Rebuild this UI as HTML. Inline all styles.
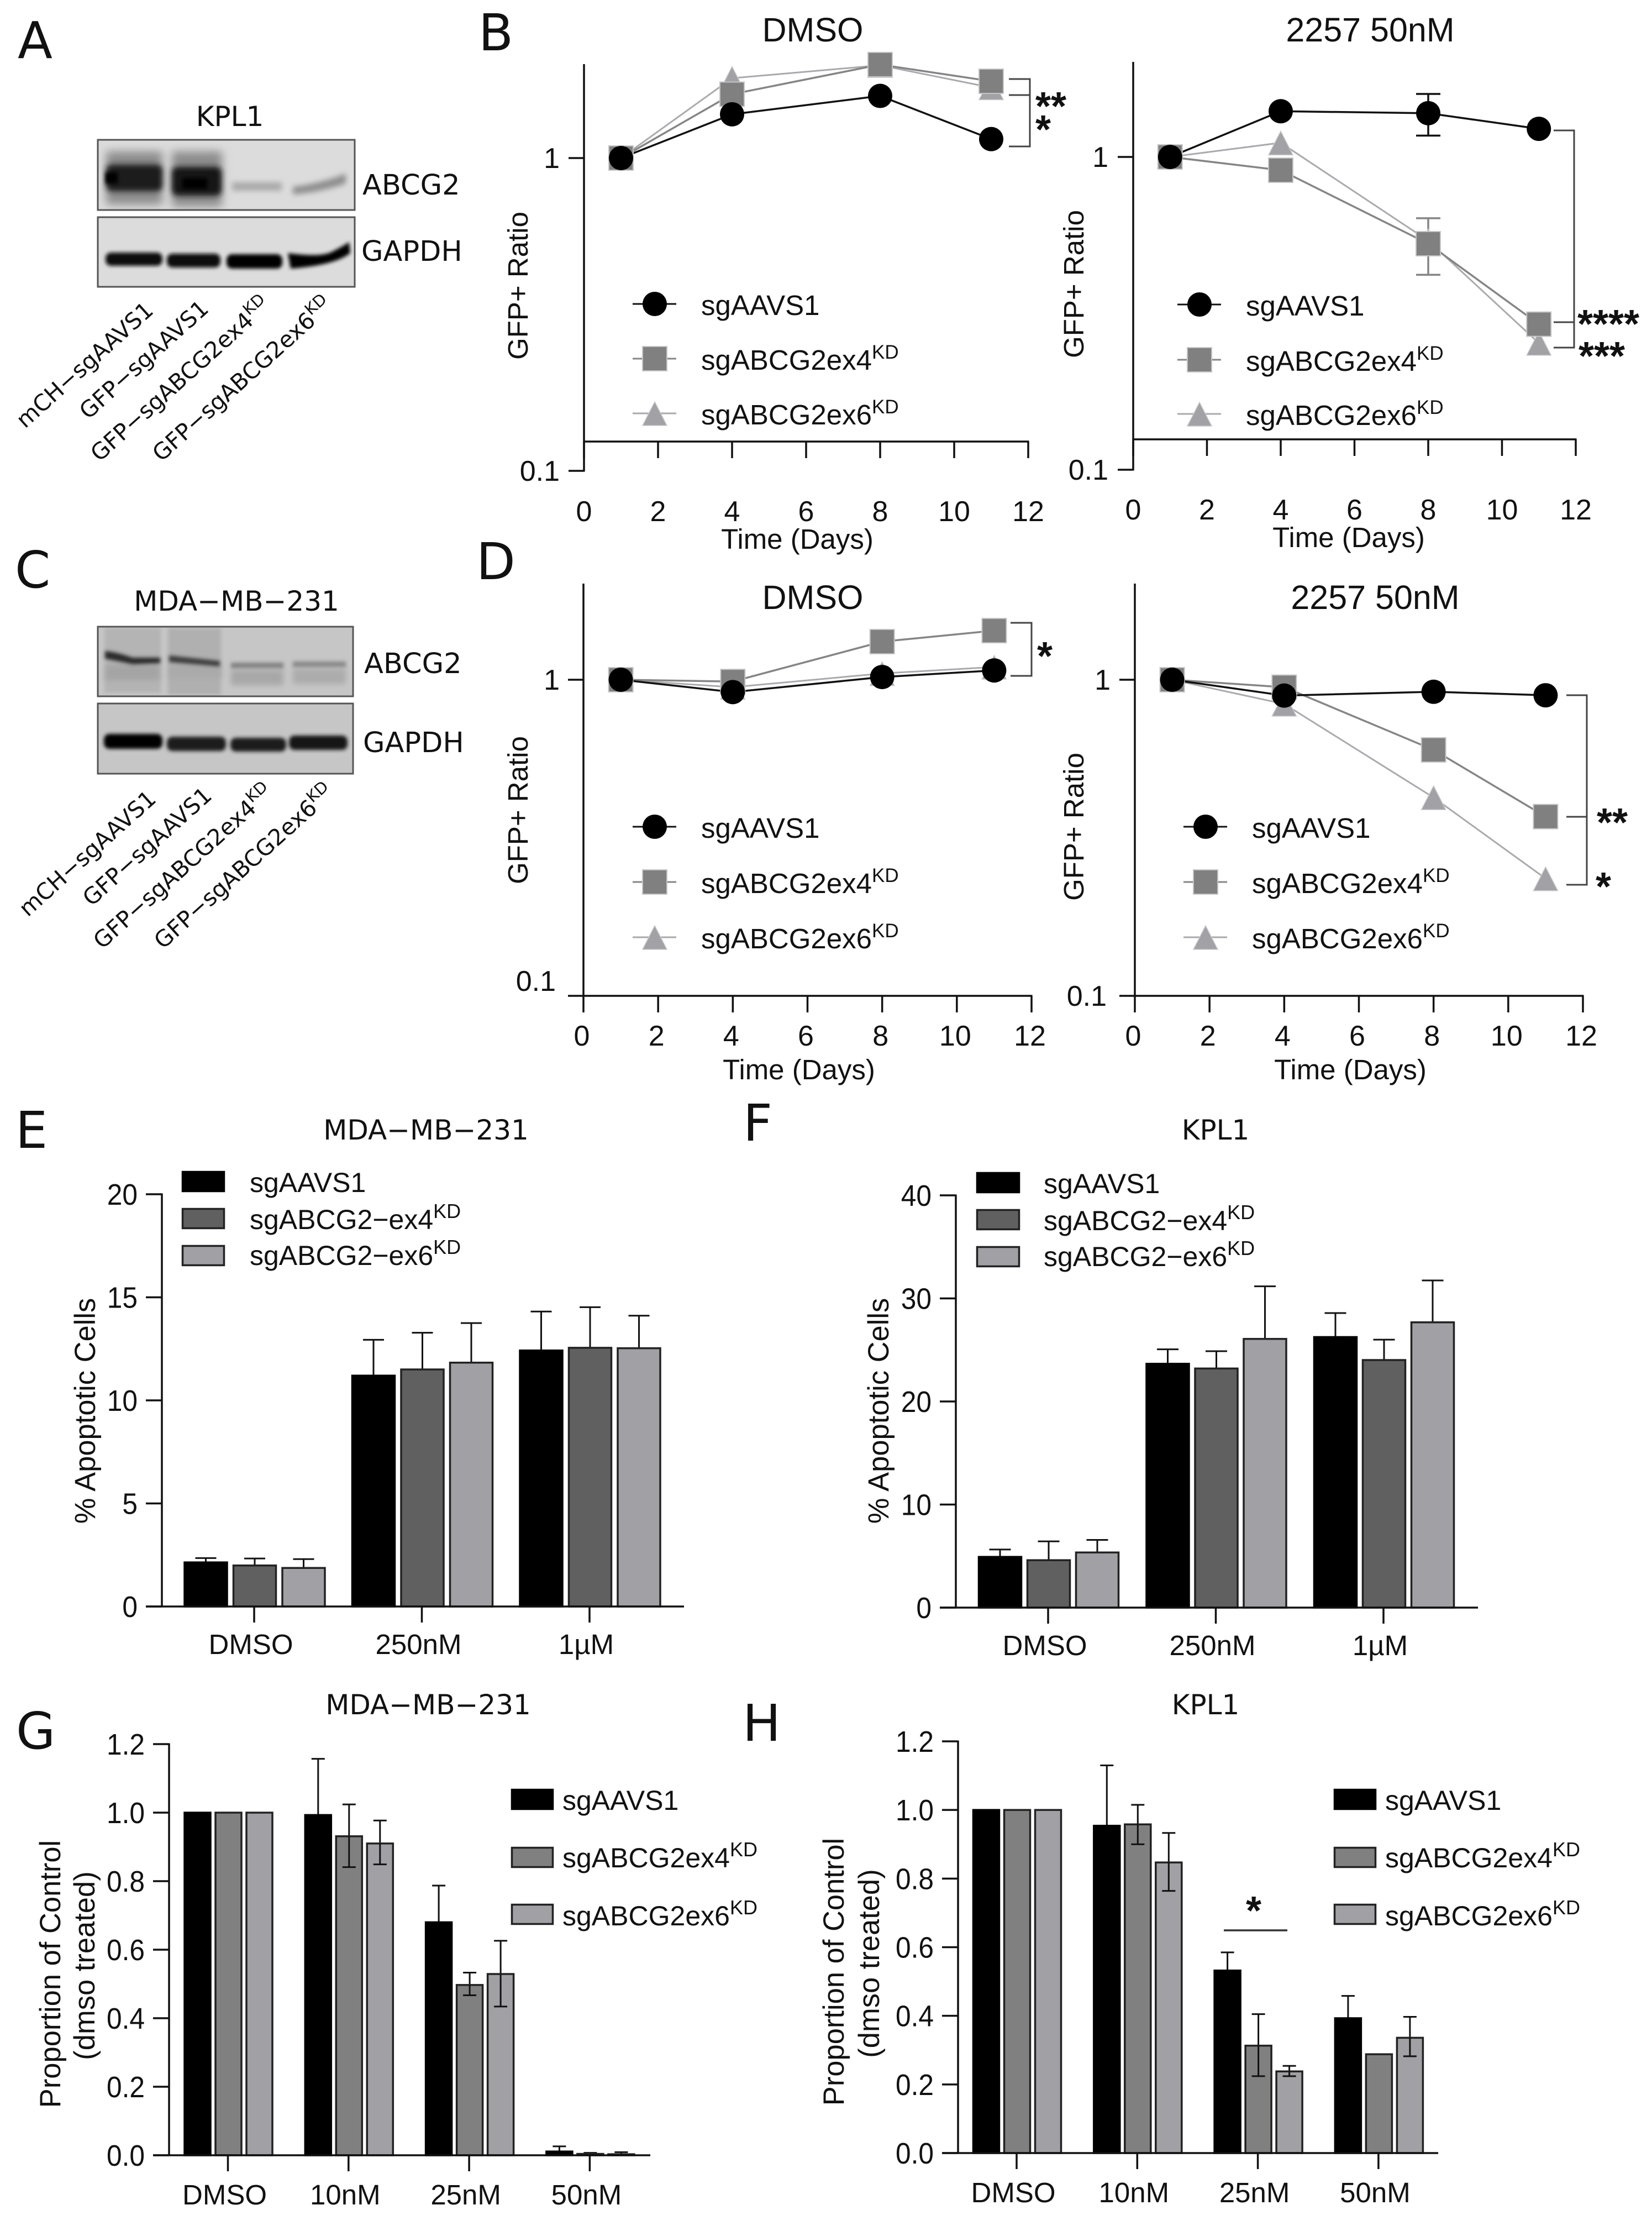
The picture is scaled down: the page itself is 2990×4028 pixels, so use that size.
<!DOCTYPE html>
<html lang="en">
<head>
<meta charset="utf-8">
<title>ABCG2 knockdown figure</title>
<style>
html,body{margin:0;padding:0;background:#fff}
svg{display:block}
text{font-family:"Liberation Sans",sans-serif;fill:#111}
.dj{font-family:"DejaVu Sans",sans-serif}
</style>
</head>
<body>
<svg id="figure" xmlns="http://www.w3.org/2000/svg" width="2990" height="4028" viewBox="0 0 2990 4028">
<defs>
<filter id="b3" x="-30%" y="-80%" width="160%" height="260%"><feGaussianBlur stdDeviation="3.5"/></filter>
<filter id="b5" x="-30%" y="-80%" width="160%" height="260%"><feGaussianBlur stdDeviation="5"/></filter>
<filter id="b6" x="-30%" y="-80%" width="160%" height="260%"><feGaussianBlur stdDeviation="8"/></filter>
<clipPath id="clipA1"><rect x="177" y="253" width="465" height="127"/></clipPath>
<clipPath id="clipA2"><rect x="177" y="393" width="465" height="126"/></clipPath>
<clipPath id="clipC1"><rect x="177" y="1134" width="462" height="126"/></clipPath>
<clipPath id="clipC2"><rect x="177" y="1273" width="462" height="127"/></clipPath>
</defs>
<rect width="2990" height="4028" fill="#fff"/>

<g>
<rect x="177" y="253" width="465" height="127" fill="#dcdcdc"/>
<g clip-path="url(#clipA1)">
<rect x="192" y="274" width="102" height="96" fill="#8c8c8c" filter="url(#b6)"/>
<rect x="311" y="274" width="91" height="100" fill="#8c8c8c" filter="url(#b6)"/>
<rect x="192" y="298" width="102" height="48" rx="10" fill="#1a1a1a" filter="url(#b5)"/>
<rect x="311" y="302" width="90" height="52" rx="10" fill="#141414" filter="url(#b5)"/>
<rect x="191" y="312" width="22" height="20" fill="#000" filter="url(#b3)"/>
<rect x="330" y="322" width="45" height="20" fill="#000" filter="url(#b3)"/>
<rect x="420" y="330" width="90" height="15" fill="#a8a8a8" filter="url(#b5)"/>
<path d="M530 338Q580 332 626 314L626 332Q580 348 530 352Z" fill="#8e8e8e" filter="url(#b5)"/>
</g>
<rect x="177" y="253" width="465" height="127" fill="none" stroke="#555" stroke-width="3"/>
</g>
<g>
<rect x="177" y="393" width="465" height="126" fill="#dcdcdc"/>
<g clip-path="url(#clipA2)">
<rect x="191" y="457" width="103" height="24" rx="10" fill="#0c0c0c" filter="url(#b3)"/>
<rect x="302" y="459" width="97" height="25" rx="10" fill="#0c0c0c" filter="url(#b3)"/>
<rect x="410" y="460" width="101" height="26" rx="10" fill="#050505" filter="url(#b3)"/>
<path d="M521 458Q580 466 600 456Q620 446 632 438L634 458Q606 480 526 486Z" fill="#000" filter="url(#b3)"/>
</g>
<rect x="177" y="393" width="465" height="126" fill="none" stroke="#555" stroke-width="3"/>
</g>
<g>
<rect x="177" y="1134" width="462" height="126" fill="#c6c6c6"/>
<g clip-path="url(#clipC1)">
<rect x="189" y="1136" width="102" height="118" fill="#b4b4b4" filter="url(#b3)"/>
<rect x="304" y="1136" width="96" height="122" fill="#b0b0b0" filter="url(#b3)"/>
<rect x="191" y="1203" width="98" height="28" fill="#a4a4a4" filter="url(#b5)"/>
<rect x="306" y="1204" width="94" height="24" fill="#aaaaaa" filter="url(#b5)"/>
<path d="M190 1178Q212 1180 240 1190L290 1190L290 1200L240 1202Q212 1196 190 1192Z" fill="#2a2a2a" filter="url(#b3)"/>
<path d="M306 1186L398 1196L398 1206L306 1198Z" fill="#3c3c3c" filter="url(#b3)"/>
<rect x="418" y="1199" width="95" height="11" fill="#828282" filter="url(#b3)"/>
<rect x="418" y="1212" width="95" height="28" fill="#a8a8a8" filter="url(#b5)"/>
<rect x="530" y="1197" width="96" height="11" fill="#888" filter="url(#b3)"/>
<rect x="530" y="1210" width="96" height="28" fill="#acacac" filter="url(#b5)"/>
</g>
<rect x="177" y="1134" width="462" height="126" fill="none" stroke="#555" stroke-width="3"/>
</g>
<g>
<rect x="177" y="1273" width="462" height="127" fill="#c6c6c6"/>
<g clip-path="url(#clipC2)">
<rect x="188" y="1328" width="106" height="27" rx="10" fill="#050505" filter="url(#b3)"/>
<rect x="302" y="1333" width="107" height="26" rx="10" fill="#1c1c1c" filter="url(#b3)"/>
<rect x="417" y="1335" width="101" height="25" rx="10" fill="#1c1c1c" filter="url(#b3)"/>
<rect x="523" y="1331" width="106" height="26" rx="10" fill="#141414" filter="url(#b3)"/>
</g>
<rect x="177" y="1273" width="462" height="127" fill="none" stroke="#555" stroke-width="3"/>
</g>
</svg>

<script>
// ---- shared categories and tick labels ----
const days = [1, 4, 8, 11];
const dayTicks = [0, 2, 4, 6, 8, 10, 12];
const seriesGuides = ['sgAAVS1', 'sgABCG2ex4', 'sgABCG2ex6'];
const hyphenGuides = ['sgAAVS1', 'sgABCG2\u2212ex4', 'sgABCG2\u2212ex6'];
const apoptosisCats = ['DMSO', '250nM', '1\u00B5M'];
const doseCats = ['DMSO', '10nM', '25nM', '50nM'];
const apoptosisTicksE = [0, 5, 10, 15, 20];
const apoptosisTicksF = [0, 10, 20, 30, 40];
const proportionTicks = ['0.0', '0.2', '0.4', '0.6', '0.8', '1.0', '1.2'];

// ---- panel B, DMSO ----
const bDmsoAavs1 = [1, 1.38, 1.58, 1.15];
const bDmsoEx4 = [1, 1.60, 1.99, 1.76];
const bDmsoEx6 = [1, 1.80, 1.98, 1.68];
// ---- panel B, 2257 50nM ----
const bDrugAavs1 = [1, 1.40, 1.38, 1.23];
const bDrugEx4 = [1, 0.907, 0.528, 0.292];
const bDrugEx6 = [1, 1.11, 0.54, 0.254];
const bDrugAavs1Hi = [null, null, 1.59, null];
const bDrugAavs1Lo = [null, null, 1.17, null];
const bDrugEx4Hi = [null, null, 0.637, null];
const bDrugEx4Lo = [null, null, 0.42, null];
// ---- panel D, DMSO ----
const dDmsoAavs1 = [1, 0.914, 1.02, 1.07];
const dDmsoEx4 = [1, 0.987, 1.32, 1.43];
const dDmsoEx6 = [1, 0.947, 1.047, 1.097];
// ---- panel D, 2257 50nM ----
const dDrugAavs1 = [1, 0.891, 0.916, 0.893];
const dDrugEx4 = [1, 0.947, 0.60, 0.369];
const dDrugEx6 = [1, 0.838, 0.424, 0.235];

// ---- panel E ----
const eAavs1 = [2.14, 11.2, 12.42];
const eEx4 = [1.99, 11.5, 12.55];
const eEx6 = [1.87, 11.83, 12.53];
const eAavs1Hi = [2.35, 12.94, 14.31];
const eEx4Hi = [2.33, 13.28, 14.52];
const eEx6Hi = [2.30, 13.75, 14.11];
// ---- panel F ----
const fAavs1 = [4.92, 23.66, 26.25];
const fEx4 = [4.6, 23.2, 24.02];
const fEx6 = [5.35, 26.07, 27.68];
const fAavs1Hi = [5.64, 25.06, 28.58];
const fEx4Hi = [6.43, 24.88, 26.0];
const fEx6Hi = [6.57, 31.17, 31.74];
// ---- panel G ----
const gAavs1 = [1, 0.993, 0.68, 0.011];
const gEx4 = [1, 0.931, 0.497, 0.004];
const gEx6 = [1, 0.91, 0.529, 0.003];
const gAavs1Hi = [null, 1.157, 0.787, 0.026];
const gEx4Hi = [null, 1.024, 0.533, 0.007];
const gEx4Lo = [null, 0.841, 0.467, null];
const gEx6Hi = [null, 0.977, 0.626, 0.009];
const gEx6Lo = [null, 0.849, 0.434, null];
// ---- panel H ----
const hAavs1 = [1, 0.954, 0.532, 0.393];
const hEx4 = [1, 0.958, 0.313, 0.288];
const hEx6 = [1, 0.847, 0.238, 0.336];
const hAavs1Hi = [null, 1.13, 0.585, 0.458];
const hEx4Hi = [null, 1.015, 0.405, null];
const hEx4Lo = [null, 0.90, 0.224, null];
const hEx6Hi = [null, 0.933, 0.254, 0.397];
const hEx6Lo = [null, 0.764, 0.224, 0.282];

const SVGNS = 'http://www.w3.org/2000/svg';
const root = document.getElementById('figure');
let cur = root;

function mk(tag, attrs, name) {
  const el = document.createElementNS(SVGNS, tag);
  for (const k in attrs) el.setAttribute(k, attrs[k]);
  
  
  cur.appendChild(el);
  return el;
}
function group(name) {
  cur = root;
  cur = mk('g', {}, name);
}
function line(x1, y1, x2, y2, stroke, w, name) {
  return mk('line', {x1: x1, y1: y1, x2: x2, y2: y2, stroke: stroke, 'stroke-width': w}, name);
}
function txt(x, y, str, name, o) {
  o = o || {};
  const size = o.size || 50;
  let tf = 'translate(' + x + ' ' + y + ')';
  if (o.rot) tf += ' rotate(' + o.rot + ')';
  if (o.sx) tf += ' scale(' + o.sx + ' 1)';
  const el = mk('text', {transform: tf, 'font-size': size, 'text-anchor': o.anchor || 'start'}, name);
  if (o.dj) el.setAttribute('class', 'dj');
  if (o.weight) el.setAttribute('font-weight', o.weight);
  el.appendChild(document.createTextNode(str));
  if (o.sup) {
    const s = document.createElementNS(SVGNS, 'tspan');
    s.setAttribute('dy', o.supDy || -20);
    s.setAttribute('font-size', o.supSize || 35);
    
    
    s.textContent = o.sup;
    el.appendChild(s);
  }
  return el;
}
function stars(cx, cy, str, name) {
  return txt(cx, cy + 35, str, name, {size: 72, anchor: 'middle', weight: 'bold'});
}
function panelLetter(x, y, c) {
  cur = root;
  return txt(x, y, c, 'panel-letter-' + c.toLowerCase(), {size: 92, dj: true});
}

// ---- markers ----
const lineStyle = [
  {line: '#111', fill: '#000', edge: '#000', w: 3.5},
  {line: '#858585', fill: '#808080', edge: '#c4c4c4', w: 3.5},
  {line: '#aaaaae', fill: '#a2a2a6', edge: '#c8c8cc', w: 3}
];
function marker(kind, cx, cy, name) {
  if (kind === 0) return mk('circle', {cx: cx, cy: cy, r: 22, fill: '#000'}, name);
  if (kind === 1) return mk('rect', {x: cx - 22, y: cy - 22, width: 44, height: 44, fill: lineStyle[1].fill, stroke: lineStyle[1].edge, 'stroke-width': 2}, name);
  return mk('polygon', {points: (cx - 22) + ',' + (cy + 22) + ' ' + (cx + 22) + ',' + (cy + 22) + ' ' + cx + ',' + (cy - 21), fill: lineStyle[2].fill, stroke: lineStyle[2].edge, 'stroke-width': 1.5}, name);
}

// ---- line chart (log y axis) ----
function lineChart(c, data, errs) {
  group(c.name);
  const xs = d => c.x0 + d * (c.x12 - c.x0) / 12;
  const ys = v => c.y1 - Math.log10(v) * (c.y01 - c.y1);
  txt(c.titleX, c.titleY, c.title, 'chart-title', {size: 61, anchor: 'middle'});
  line(c.x0, c.top, c.x0, Math.max(c.y01, c.axisY) + 1.5, '#111', 3.5, 'y-axis-line');
  line(c.x0 - 1.5, c.axisY, c.x12 + 1.5, c.axisY, '#111', 3.5, 'x-axis-line');
  line(c.x0 - 28, c.y1, c.x0, c.y1, '#111', 3.5, 'y-tick-1');
  line(c.x0 - 28, c.y01, c.x0, c.y01, '#111', 3.5, 'y-tick-0-1');
  txt(c.yLabelRight, c.y1 + 18, '1', 'y-tick-label-1', {size: 52, anchor: 'end'});
  txt(c.yLabel01Right, c.yLabel01Y + 18, '0.1', 'y-tick-label-0-1', {size: 52, anchor: 'end'});
  dayTicks.forEach(d => {
    line(xs(d), c.axisY, xs(d), c.axisY + 30, '#111', 3.5, 'x-tick-' + d);
    txt(xs(d) + c.xLabelShift, c.xLabelY, String(d), 'x-tick-label-' + d, {size: 52, anchor: 'middle'});
  });
  txt(c.xTitleX, c.xTitleY, 'Time (Days)', 'x-axis-title', {size: 51, anchor: 'middle'});
  txt(c.yTitleX, c.yTitleY, 'GFP+ Ratio', 'y-axis-title', {size: 51, anchor: 'middle', rot: -90});
  // draw order: ex6, ex4, then sgAAVS1 on top
  [2, 1, 0].forEach(s => {
    const pts = days.map((d, i) => xs(d) + ',' + ys(data[s][i])).join(' ');
    mk('polyline', {points: pts, fill: 'none', stroke: lineStyle[s].line, 'stroke-width': lineStyle[s].w}, 'series-line-' + seriesGuides[s]);
  });
  (errs || []).forEach(e => {
    days.forEach((d, i) => {
      if (e.hi[i] == null) return;
      const col = e.color, x = xs(d);
      line(x, ys(e.hi[i]), x, ys(e.lo[i]), col, 3.5, 'error-bar');
      line(x - 22, ys(e.hi[i]), x + 22, ys(e.hi[i]), col, 3.5, 'error-cap-upper');
      line(x - 22, ys(e.lo[i]), x + 22, ys(e.lo[i]), col, 3.5, 'error-cap-lower');
    });
  });
  [2, 1, 0].forEach(s => {
    days.forEach((d, i) => marker(s, xs(d), ys(data[s][i]), 'point-' + seriesGuides[s] + '-day-' + d));
  });
  // legend
  seriesGuides.forEach((g, s) => {
    const ly = c.legendY[s];
    line(c.legendX - 40, ly, c.legendX + 39, ly, lineStyle[s].line, 3, 'legend-line-' + g);
    marker(s, c.legendX, ly, 'legend-marker-' + g);
    txt(c.legendText, ly + 20, g, 'legend-label-' + g, {size: 51, sup: s ? 'KD' : null});
  });
  (c.brackets || []).forEach(b => {
    line(b.x, b.top, b.x, b.bottom, '#444', 3, 'significance-bracket-spine');
    b.arms.forEach(a => line(a[0], a[1], b.x + 1.5, a[1], '#444', 3, 'significance-bracket-arm'));
  });
  (c.stars || []).forEach(s => stars(s[0], s[1], s[2], 'significance-stars'));
}

// ---- bar chart (linear y axis) ----
function barChart(c, values, hi, lo, cats, ticks) {
  group(c.name);
  const ys = v => c.y0 - v * (c.y0 - c.yTop) / c.yMax;
  const xc = i => c.first + i * c.step;
  const fills = c.fills;
  txt(c.titleX, c.titleY, c.title, 'chart-title', {size: 50, anchor: 'middle', dj: true});
  cats.forEach((cat, i) => {
    values.forEach((arr, s) => {
      const x = xc(i) + (s - 1) * c.offset - c.barW / 2;
      const cx = x + c.barW / 2;
      if (hi[s] && hi[s][i] != null) {
        line(cx - c.cap / 2, ys(hi[s][i]), cx + c.cap / 2, ys(hi[s][i]), '#111', 3, 'error-cap-upper');
        line(cx, ys(hi[s][i]), cx, ys(arr[i]), '#111', 3, 'error-stem-upper');
      }
      const h = Math.max(c.y0 - ys(arr[i]), 0);
      mk('rect', {x: x + 1.5, y: c.y0 - h, width: c.barW - 3, height: h, fill: fills[s], stroke: s ? '#222' : '#000', 'stroke-width': 3.5}, 'bar-' + cat + '-' + c.labels[s]);
      if (lo[s] && lo[s][i] != null) {
        line(cx, ys(arr[i]), cx, ys(lo[s][i]), '#111', 3, 'error-stem-lower');
        line(cx - c.cap / 2, ys(lo[s][i]), cx + c.cap / 2, ys(lo[s][i]), '#111', 3, 'error-cap-lower');
      }
    });
    line(xc(i) - 1, c.y0, xc(i) - 1, c.y0 + 29, '#111', 3.5, 'x-tick-' + cat);
    txt(xc(i) - 7, c.catY, cat, 'x-tick-label-' + cat, {size: 51, anchor: 'middle', sx: c.catSx || 1});
  });
  line(c.x0, c.yTop - 1.5, c.x0, c.y0 + 1.5, '#111', 3.5, 'y-axis-line');
  line(c.x0 - 29, c.y0, c.xEnd, c.y0, '#111', 3.5, 'x-axis-line');
  ticks.forEach(t => {
    const v = parseFloat(t);
    line(c.x0 - 29, ys(v), c.x0, ys(v), '#111', 3.5, 'y-tick-' + t);
    txt(c.tickRight, ys(v) + 19, String(t), 'y-tick-label-' + t, {size: 54, anchor: 'end', sx: 0.92});
  });
  c.yTitles.forEach(t => txt(t[0], t[1], t[2], 'y-axis-title', {size: 52.5, anchor: 'middle', rot: -90}));
  c.labels.forEach((g, s) => {
    mk('rect', {x: c.swX + 1.5, y: c.swY[s] + 1.5, width: c.swW - 3, height: 35, fill: fills[s], stroke: s ? '#222' : '#000', 'stroke-width': 3.5}, 'legend-swatch-' + g);
    txt(c.legendText, c.legendBase[s], g, 'legend-label-' + g, {size: 50, sup: s ? 'KD' : null, supDy: -20, supSize: 36});
  });
}

// ---- panels A and C: blot annotation ----
function blotLabels(name, title, titleX, titleY, ab, gp, rot) {
  group(name);
  txt(titleX, titleY, title, 'blot-title', {size: 50, anchor: 'middle', dj: true});
  txt(ab[0], ab[1], 'ABCG2', 'blot-label-abcg2', {size: 51, dj: true});
  txt(gp[0], gp[1], 'GAPDH', 'blot-label-gapdh', {size: 51, dj: true});
  txt(rot[0][0], rot[0][1], 'mCH\u2212sgAAVS1', 'lane-label-mch-sgaavs1', {size: 41, dj: true, anchor: 'end', rot: -42});
  txt(rot[1][0], rot[1][1], 'GFP\u2212sgAAVS1', 'lane-label-gfp-sgaavs1', {size: 41, dj: true, anchor: 'end', rot: -42});
  txt(rot[2][0], rot[2][1], 'GFP\u2212sgABCG2ex4', 'lane-label-gfp-ex4', {size: 41, dj: true, anchor: 'end', rot: -42, sup: 'KD', supDy: -16, supSize: 29});
  txt(rot[3][0], rot[3][1], 'GFP\u2212sgABCG2ex6', 'lane-label-gfp-ex6', {size: 41, dj: true, anchor: 'end', rot: -42, sup: 'KD', supDy: -16, supSize: 29});
}

blotLabels('panel-a-labels', 'KPL1', 416, 228, [656, 352], [654, 472], [[280, 565], [380, 562], [492, 556], [604, 556]]);
blotLabels('panel-c-labels', 'MDA\u2212MB\u2212231', 428, 1105, [659, 1218], [657, 1361], [[285, 1449], [386, 1443], [497, 1438], [607, 1438]]);

lineChart({
  name: 'panel-b-dmso-chart', title: 'DMSO', titleX: 1471, titleY: 75,
  x0: 1057, x12: 1861, top: 116, y1: 286, y01: 852, axisY: 799,
  yLabelRight: 1013, yLabel01Right: 1013, yLabel01Y: 852, xLabelShift: 0, xLabelY: 943,
  xTitleX: 1443, xTitleY: 993, yTitleX: 955, yTitleY: 517,
  legendX: 1185, legendY: [550, 649, 748], legendText: 1269,
  brackets: [{x: 1864, top: 143, bottom: 265, arms: [[1826, 143], [1826, 172], [1826, 265]]}],
  stars: [[1902, 182, '**'], [1888, 224, '*']]
}, [bDmsoAavs1, bDmsoEx4, bDmsoEx6]);

lineChart({
  name: 'panel-b-2257-chart', title: '2257 50nM', titleX: 2480, titleY: 75,
  x0: 2051, x12: 2852, top: 112, y1: 284, y01: 850, axisY: 795,
  yLabelRight: 2006, yLabel01Right: 2006, yLabel01Y: 850, xLabelShift: 0, xLabelY: 940,
  xTitleX: 2441, xTitleY: 990, yTitleX: 1961, yTitleY: 514,
  legendX: 2171, legendY: [551, 651, 749], legendText: 2255,
  brackets: [{x: 2849, top: 236, bottom: 629, arms: [[2812, 236], [2812, 583], [2812, 629]]}],
  stars: [[2911, 576, '****'], [2899, 634, '***']]
}, [bDrugAavs1, bDrugEx4, bDrugEx6], [
  {hi: bDrugEx4Hi, lo: bDrugEx4Lo, color: '#858585'},
  {hi: bDrugAavs1Hi, lo: bDrugAavs1Lo, color: '#111'}
]);

lineChart({
  name: 'panel-d-dmso-chart', title: 'DMSO', titleX: 1471, titleY: 1102,
  x0: 1056, x12: 1867, top: 1056, y1: 1230, y01: 1802, axisY: 1802,
  yLabelRight: 1013, yLabel01Right: 1006, yLabel01Y: 1775, xLabelShift: -3, xLabelY: 1892,
  xTitleX: 1446, xTitleY: 1953, yTitleX: 955, yTitleY: 1466,
  legendX: 1185, legendY: [1496, 1596, 1696], legendText: 1269,
  brackets: [{x: 1867, top: 1127, bottom: 1223, arms: [[1829, 1127], [1829, 1223]]}],
  stars: [[1891, 1177, '*']]
}, [dDmsoAavs1, dDmsoEx4, dDmsoEx6]);

lineChart({
  name: 'panel-d-2257-chart', title: '2257 50nM', titleX: 2489, titleY: 1102,
  x0: 2054, x12: 2865, top: 1056, y1: 1230, y01: 1802, axisY: 1802,
  yLabelRight: 2010, yLabel01Right: 2003, yLabel01Y: 1802, xLabelShift: -3, xLabelY: 1892,
  xTitleX: 2444, xTitleY: 1953, yTitleX: 1961, yTitleY: 1496,
  legendX: 2182, legendY: [1496, 1596, 1696], legendText: 2266,
  brackets: [{x: 2872, top: 1258, bottom: 1601, arms: [[2835, 1258], [2835, 1478], [2835, 1601]]}],
  stars: [[2918, 1478, '**'], [2902, 1594, '*']]
}, [dDrugAavs1, dDrugEx4, dDrugEx6]);

const darkFills = ['#000', '#606060', '#a0a0a5'];
const midFills = ['#000', '#808080', '#a0a0a5'];

barChart({
  name: 'panel-e-chart', title: 'MDA\u2212MB\u2212231', titleX: 771, titleY: 2062,
  x0: 293, xEnd: 1238, y0: 2907, yTop: 2161, yMax: 20, first: 461, step: 303.5, offset: 88.5, barW: 80, cap: 38,
  fills: darkFills, labels: hyphenGuides, catY: 2993, tickRight: 249,
  yTitles: [[172, 2553, '% Apoptotic Cells']],
  swX: 329, swW: 78, swY: [2119, 2186, 2253], legendText: 452, legendBase: [2157, 2224, 2289]
}, [eAavs1, eEx4, eEx6], [eAavs1Hi, eEx4Hi, eEx6Hi], [], apoptosisCats, apoptosisTicksE);

barChart({
  name: 'panel-f-chart', title: 'KPL1', titleX: 2200, titleY: 2062,
  x0: 1730, xEnd: 2675, y0: 2909, yTop: 2163, yMax: 40, first: 1898, step: 303.5, offset: 88, barW: 80, cap: 39,
  fills: darkFills, labels: hyphenGuides, catY: 2995, tickRight: 1686,
  yTitles: [[1608, 2553, '% Apoptotic Cells']],
  swX: 1767, swW: 79, swY: [2121, 2188, 2255], legendText: 1889, legendBase: [2159, 2226, 2291]
}, [fAavs1, fEx4, fEx6], [fAavs1Hi, fEx4Hi, fEx6Hi], [], apoptosisCats, apoptosisTicksF);

barChart({
  name: 'panel-g-chart', title: 'MDA\u2212MB\u2212231', titleX: 775, titleY: 3102,
  x0: 306, xEnd: 1177, y0: 3900, yTop: 3156, yMax: 1.2, first: 413.5, step: 218.3, offset: 56, barW: 50, cap: 24,
  fills: midFills, labels: seriesGuides, catY: 3989, tickRight: 262,
  yTitles: [[109, 3572, 'Proportion of Control'], [171, 3557, '(dmso treated)']],
  swX: 925, swW: 77, swY: [3237, 3342, 3445], legendText: 1018, legendBase: [3275, 3379, 3484]
}, [gAavs1, gEx4, gEx6], [gAavs1Hi, gEx4Hi, gEx6Hi], [null, gEx4Lo, gEx6Lo], doseCats, proportionTicks);

barChart({
  name: 'panel-h-chart', title: 'KPL1', titleX: 2182, titleY: 3102,
  x0: 1734, xEnd: 2603, y0: 3896, yTop: 3151, yMax: 1.2, first: 1841, step: 218.3, offset: 56, barW: 50, cap: 24,
  fills: midFills, labels: seriesGuides, catY: 3985, tickRight: 1690,
  yTitles: [[1527, 3568, 'Proportion of Control'], [1591, 3553, '(dmso treated)']],
  swX: 2414, swW: 77, swY: [3237, 3342, 3445], legendText: 2507, legendBase: [3275, 3379, 3484]
}, [hAavs1, hEx4, hEx6], [hAavs1Hi, hEx4Hi, hEx6Hi], [null, hEx4Lo, hEx6Lo], doseCats, proportionTicks);
line(2215, 3493, 2330, 3493, '#333', 3.5, 'significance-line-25nm');
stars(2269, 3447, '*', 'significance-star-25nm');

panelLetter(32, 105, 'A');
panelLetter(866, 91, 'B');
panelLetter(27, 1063, 'C');
panelLetter(862, 1048, 'D');
panelLetter(28, 2077, 'E');
panelLetter(1345, 2064, 'F');
panelLetter(29, 3164, 'G');
panelLetter(1344, 3150, 'H');
</script>
</body>
</html>
